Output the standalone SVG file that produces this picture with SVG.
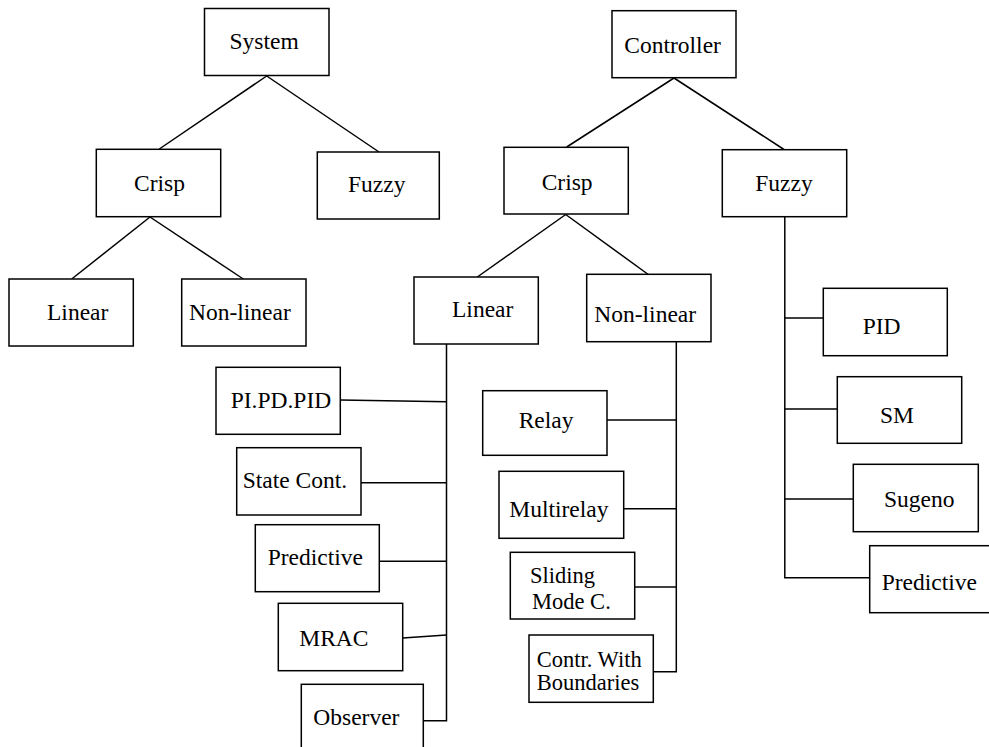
<svg xmlns="http://www.w3.org/2000/svg" width="989" height="747" viewBox="0 0 989 747">
  <style>
    .box { fill: #ffffff; stroke: #000000; stroke-width: 1.5; }
    .lbl { font-size: 23.5px; fill: #000000; }
    .sm { font-size: 22.5px; }
    .wire { fill: none; stroke: #000000; stroke-width: 1.5; }
  </style>
  <rect width="989" height="747" fill="#ffffff"/>

  <!-- connectors -->
  <g id="connectors">
    <!-- System tree -->
    <line class="wire" x1="266.7" y1="76" x2="159.3" y2="149"/>
    <line class="wire" x1="266.7" y1="76" x2="379" y2="152"/>
    <line class="wire" x1="150" y1="217" x2="71.7" y2="279"/>
    <line class="wire" x1="150" y1="217" x2="243.3" y2="279"/>
    <!-- Controller tree -->
    <line class="wire" x1="674" y1="78" x2="566.7" y2="147"/>
    <line class="wire" x1="674" y1="78" x2="784" y2="149.5"/>
    <line class="wire" x1="565.7" y1="214.5" x2="477.3" y2="277"/>
    <line class="wire" x1="565.7" y1="214.5" x2="648.3" y2="274.5"/>
    <!-- Linear controller bus -->
    <polyline class="wire" points="446.5,344 446.5,720.7 423.3,720.7"/>
    <line class="wire" x1="340.3" y1="400" x2="446.5" y2="401.7"/>
    <line class="wire" x1="361" y1="482.7" x2="446.5" y2="482.7"/>
    <line class="wire" x1="379.3" y1="561.3" x2="446.5" y2="561.3"/>
    <line class="wire" x1="402.7" y1="638" x2="446.5" y2="635"/>
    <!-- Non-linear controller bus -->
    <polyline class="wire" points="676.3,341.7 676.3,671.7 653.3,671.7"/>
    <line class="wire" x1="607" y1="420" x2="676.3" y2="420"/>
    <line class="wire" x1="623.7" y1="508.7" x2="676.3" y2="508.7"/>
    <line class="wire" x1="634.7" y1="587" x2="676.3" y2="587"/>
    <!-- Fuzzy controller bus -->
    <polyline class="wire" points="784.8,216.7 784.8,577.7 869.7,577.7"/>
    <line class="wire" x1="784.8" y1="318" x2="823.3" y2="318"/>
    <line class="wire" x1="784.8" y1="409" x2="837.3" y2="409"/>
    <line class="wire" x1="784.8" y1="499" x2="853.3" y2="499"/>
  </g>

  <g font-family="Liberation Serif, Times New Roman, Tinos, Noto Serif, DejaVu Serif, serif">
  <!-- System tree nodes -->
  <g id="system">
    <rect class="box" x="204.5" y="8.5" width="124.5" height="67"/>
    <text class="lbl" x="229.5" y="49.3">System</text>
  </g>
  <g id="sys-crisp">
    <rect class="box" x="96.3" y="149.3" width="124.4" height="67.4"/>
    <text class="lbl" x="134" y="190.7">Crisp</text>
  </g>
  <g id="sys-fuzzy">
    <rect class="box" x="317.3" y="152" width="122" height="67"/>
    <text class="lbl" x="348" y="192">Fuzzy</text>
  </g>
  <g id="sys-linear">
    <rect class="box" x="9" y="279" width="124.3" height="67"/>
    <text class="lbl" x="47" y="320">Linear</text>
  </g>
  <g id="sys-nonlinear">
    <rect class="box" x="181.7" y="279" width="124.3" height="67"/>
    <text class="lbl" x="189" y="320">Non-linear</text>
  </g>

  <!-- Controller tree nodes -->
  <g id="controller">
    <rect class="box" x="612" y="10.7" width="124" height="67"/>
    <text class="lbl" x="624.3" y="53.3">Controller</text>
  </g>
  <g id="ctl-crisp">
    <rect class="box" x="504" y="147.3" width="124.3" height="66.7"/>
    <text class="lbl" x="541.7" y="190">Crisp</text>
  </g>
  <g id="ctl-fuzzy">
    <rect class="box" x="722.3" y="149.7" width="124.4" height="67"/>
    <text class="lbl" x="755.3" y="190.7">Fuzzy</text>
  </g>
  <g id="ctl-linear">
    <rect class="box" x="414" y="277" width="124.3" height="67"/>
    <text class="lbl" x="452" y="316.7">Linear</text>
  </g>
  <g id="ctl-nonlinear">
    <rect class="box" x="586.7" y="274.3" width="124.3" height="67.4"/>
    <text class="lbl" x="594.3" y="321.7">Non-linear</text>
  </g>

  <!-- Linear controllers -->
  <g id="pi-pd-pid">
    <rect class="box" x="216" y="367.3" width="124.3" height="67"/>
    <text class="lbl" x="230.7" y="408.3">PI.PD.PID</text>
  </g>
  <g id="state-cont">
    <rect class="box" x="236.7" y="447.7" width="124.3" height="67.3"/>
    <text class="lbl" x="242.7" y="488.3">State Cont.</text>
  </g>
  <g id="predictive-lin">
    <rect class="box" x="255.3" y="524.7" width="124" height="67"/>
    <text class="lbl" x="267.7" y="565">Predictive</text>
  </g>
  <g id="mrac">
    <rect class="box" x="278.3" y="603.3" width="124.4" height="67.4"/>
    <text class="lbl" x="299.3" y="646">MRAC</text>
  </g>
  <g id="observer">
    <rect class="box" x="301.3" y="684.3" width="122" height="67"/>
    <text class="lbl" x="313.3" y="725">Observer</text>
  </g>

  <!-- Non-linear controllers -->
  <g id="relay">
    <rect class="box" x="482.7" y="390.7" width="124.3" height="64.6"/>
    <text class="lbl" x="518.7" y="428.3">Relay</text>
  </g>
  <g id="multirelay">
    <rect class="box" x="499" y="471.3" width="124.7" height="67"/>
    <text class="lbl" x="509.3" y="516.7">Multirelay</text>
  </g>
  <g id="sliding-mode">
    <rect class="box" x="510.3" y="552.3" width="124.4" height="66.7"/>
    <text class="lbl sm" x="530" y="583.3">Sliding</text>
    <text class="lbl sm" x="532" y="609.3">Mode C.</text>
  </g>
  <g id="boundaries">
    <rect class="box" x="529" y="635" width="124.3" height="67.3"/>
    <text class="lbl sm" x="536.7" y="666.7">Contr. With</text>
    <text class="lbl sm" x="536.7" y="690">Boundaries</text>
  </g>

  <!-- Fuzzy controllers -->
  <g id="fuzzy-pid">
    <rect class="box" x="823.3" y="288.3" width="124" height="67.4"/>
    <text class="lbl" x="862.7" y="334.3">PID</text>
  </g>
  <g id="fuzzy-sm">
    <rect class="box" x="837.3" y="376.7" width="124.4" height="66.6"/>
    <text class="lbl" x="880" y="423.3">SM</text>
  </g>
  <g id="sugeno">
    <rect class="box" x="853.3" y="464.3" width="125" height="67.4"/>
    <text class="lbl" x="884" y="506.7">Sugeno</text>
  </g>
  <g id="fuzzy-predictive">
    <rect class="box" x="869.7" y="545.7" width="124" height="67"/>
    <text class="lbl" x="881.7" y="590">Predictive</text>
  </g>
  </g>
</svg>
